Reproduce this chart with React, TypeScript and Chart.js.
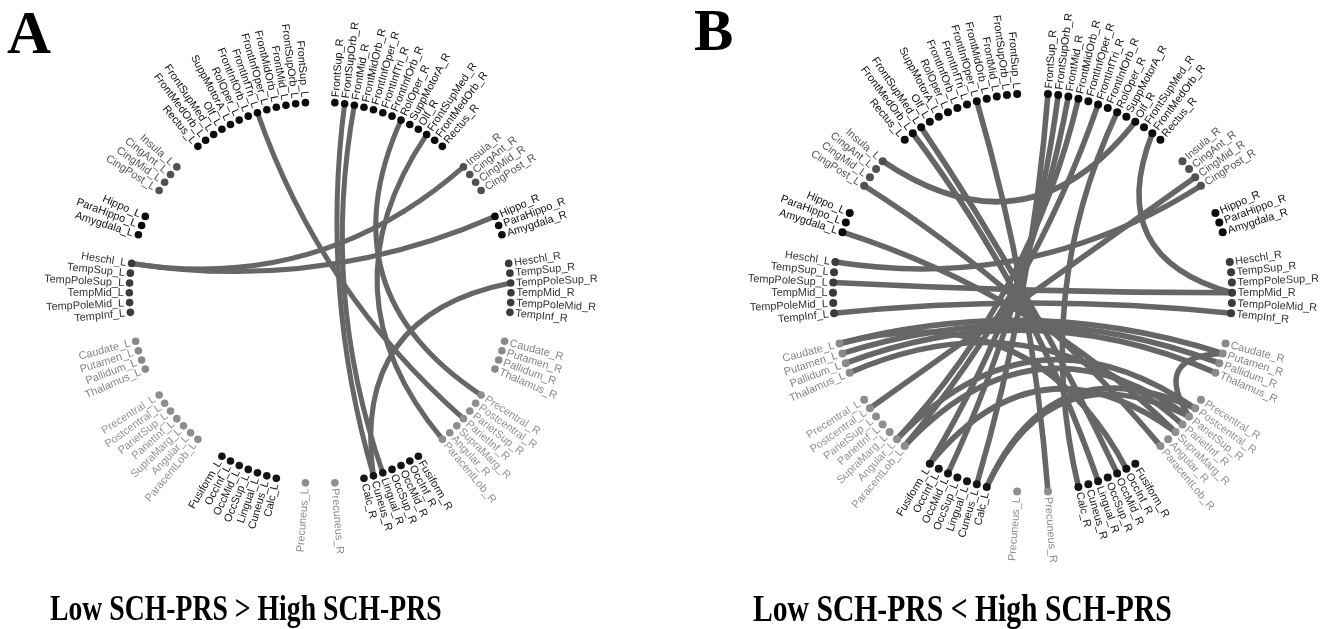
import React, { useEffect, useRef } from "react";
import { Chart, registerables } from "chart.js";
Chart.register(...registerables);

// ---------- data ----------
const FRONTAL = ["FrontSup", "FrontSupOrb", "FrontMid", "FrontMidOrb", "FrontInfOper", "FrontInfTri", "FrontInfOrb", "RolOper", "SuppMotorA", "Olf", "FrontSupMed", "FrontMedOrb", "Rectus"];
const LIMBIC = ["Insula", "CingAnt", "CingMid", "CingPost"];
const HIPPO = ["Hippo", "ParaHippo", "Amygdala"];
const TEMPORAL = ["Heschl", "TempSup", "TempPoleSup", "TempMid", "TempPoleMid", "TempInf"];
const SUBCORT = ["Caudate", "Putamen", "Pallidum", "Thalamus"];
const PARIETAL = ["Precentral", "Postcentral", "ParietSup", "ParietInf", "SupraMarg", "Angular", "ParacentLob"];
const OCCIPITAL = ["Fusiform", "OccInf", "OccMid", "OccSup", "Lingual", "Cuneus", "Calc"];
const PRECUNEUS = ["Precuneus"];
const GROUPS = [FRONTAL, LIMBIC, HIPPO, TEMPORAL, SUBCORT, PARIETAL, OCCIPITAL, PRECUNEUS];

const GROUP_DOT_COLORS = ["#0c0c0c", "#515151", "#0c0c0c", "#3b3b3b", "#8a8a8a", "#8e8e8e", "#141414", "#8e8e8e"];
const GROUP_TEXT_COLORS = ["#111111", "#555555", "#111111", "#333333", "#858585", "#929292", "#161616", "#8c8c8c"];

const LINKS_A: [string, string][] = [
  ["Heschl_L", "Insula_R"],
  ["Heschl_L", "Hippo_R"],
  ["FrontInfTri_L", "ParietInf_R"],
  ["FrontSupOrb_R", "Cuneus_R"],
  ["FrontMid_R", "Lingual_R"],
  ["RolOper_R", "Precentral_R"],
  ["FrontSupMed_R", "ParacentLob_R"],
  ["TempPoleSup_R", "Cuneus_R"],
];

const LINKS_B: [string, string][] = [
  ["FrontMedOrb_L", "Lingual_R"],
  ["FrontSupMed_L", "OccMid_R"],
  ["FrontInfOper_L", "Precuneus_R"],
  ["Insula_L", "Olf_R"],
  ["CingPost_L", "ParacentLob_R"],
  ["Amygdala_L", "SupraMarg_R"],
  ["Heschl_L", "CingPost_R"],
  ["TempPoleSup_L", "TempMid_R"],
  ["TempInf_L", "TempInf_R"],
  ["Caudate_L", "Putamen_R"],
  ["Putamen_L", "Pallidum_R"],
  ["Pallidum_L", "Thalamus_R"],
  ["Thalamus_L", "ParietInf_R"],
  ["Postcentral_L", "CingMid_R"],
  ["Angular_L", "FrontMidOrb_R"],
  ["ParacentLob_L", "FrontInfTri_R"],
  ["Fusiform_L", "FrontMid_R"],
  ["OccMid_L", "FrontSupOrb_R"],
  ["Cuneus_L", "FrontSup_R"],
  ["Calc_L", "ParietSup_R"],
  ["FrontMedOrb_R", "TempMid_R"],
  ["RolOper_R", "Calc_R"],
  ["Angular_L", "Postcentral_R"],
  ["OccInf_R", "Caudate_L"],
  ["ParietSup_R", "Putamen_R"],
  ["Calc_L", "Postcentral_R"],
  ["Fusiform_L", "SupraMarg_R"],
  ["ParacentLob_L", "ParietSup_R"],
];

const TITLE_A = "A";
const TITLE_B = "B";
const CAPTION_A = "Low SCH-PRS > High SCH-PRS";
const CAPTION_B = "Low SCH-PRS < High SCH-PRS";

// ---------- layout ----------
const H = 629;
const STEP = 180 / 61;

type Node = { name: string; group: number; phi: number; x: number; y: number };

function buildNodes(): Node[] {
  const out: Node[] = [];
  let idx = 0;
  GROUPS.forEach((g, gi) => {
    g.forEach((base) => {
      const theta = (1.5 + idx + 2 * gi) * STEP;
      const mk = (name: string, phi: number) => {
        const rad = (phi * Math.PI) / 180;
        out.push({ name, group: gi, phi, x: Math.sin(rad), y: Math.cos(rad) });
      };
      mk(base + "_L", 360 - theta);
      mk(base + "_R", theta);
      idx++;
    });
  });
  return out;
}
const NODES = buildNodes();
const NODE_MAP: Record<string, Node> = {};
NODES.forEach((n) => (NODE_MAP[n.name] = n));

function controlPoint(a: Node, b: Node) {
  let d = Math.abs(a.phi - b.phi);
  if (d > 180) d = 360 - d;
  const f = Math.max(0, 0.85 - 0.0085 * d);
  const sx = a.x + b.x;
  const sy = a.y + b.y;
  const m = Math.hypot(sx, sy);
  if (m < 1e-6 || f === 0) return { x: 0, y: 0 };
  return { x: (f * sx) / m, y: (f * sy) / m };
}

function makePlugin(links: [string, string][], linkWidth: number, fontSize: number) {
  return {
    id: "circos",
    beforeDatasetsDraw(chart: any) {
      const { ctx } = chart;
      const xs = chart.scales.x;
      const ys = chart.scales.y;
      ctx.save();
      ctx.strokeStyle = "#666666";
      ctx.lineWidth = linkWidth;
      ctx.lineCap = "butt";
      links.forEach(([an, bn]) => {
        const a = NODE_MAP[an];
        const b = NODE_MAP[bn];
        if (!a || !b) return;
        const c = controlPoint(a, b);
        ctx.beginPath();
        ctx.moveTo(xs.getPixelForValue(a.x), ys.getPixelForValue(a.y));
        ctx.quadraticCurveTo(
          xs.getPixelForValue(c.x),
          ys.getPixelForValue(c.y),
          xs.getPixelForValue(b.x),
          ys.getPixelForValue(b.y)
        );
        ctx.stroke();
      });
      ctx.restore();
    },
    afterDatasetsDraw(chart: any) {
      const { ctx } = chart;
      const xs = chart.scales.x;
      const ys = chart.scales.y;
      ctx.save();
      ctx.font = `${fontSize}px "Liberation Sans", Arial, sans-serif`;
      ctx.textBaseline = "middle";
      NODES.forEach((n) => {
        const px = xs.getPixelForValue(n.x);
        const py = ys.getPixelForValue(n.y);
        const rad = (n.phi * Math.PI) / 180;
        ctx.save();
        ctx.translate(px, py);
        ctx.fillStyle = GROUP_TEXT_COLORS[n.group];
        if (n.phi < 180) {
          ctx.rotate(rad - Math.PI / 2);
          ctx.textAlign = "left";
          ctx.fillText(n.name, 5.5, 0.5);
        } else {
          ctx.rotate(rad + Math.PI / 2);
          ctx.textAlign = "right";
          ctx.fillText(n.name, -5.5, 0.5);
        }
        ctx.restore();
      });
      ctx.restore();
    },
  };
}

type PanelProps = {
  links: [string, string][];
  left: number;
  width: number;
  cx: number;
  cy: number;
  r: number;
  linkWidth: number;
  dotRadius: number;
};

function CircosPanel({ links, left, width, cx, cy, r, linkWidth, dotRadius }: PanelProps) {
  const ref = useRef<HTMLCanvasElement>(null);
  useEffect(() => {
    const canvas = ref.current;
    if (!canvas) return;
    const datasets = GROUPS.map((g, gi) => ({
      label: "group" + gi,
      data: NODES.filter((n) => n.group === gi).map((n) => ({ x: n.x, y: n.y })),
      backgroundColor: GROUP_DOT_COLORS[gi],
      borderColor: GROUP_DOT_COLORS[gi],
      borderWidth: 0,
      pointRadius: dotRadius,
      pointHoverRadius: dotRadius,
      showLine: false,
    }));
    const chart = new Chart(canvas, {
      type: "scatter",
      data: { datasets },
      options: {
        animation: false,
        responsive: false,
        devicePixelRatio: 1,
        events: [],
        layout: { padding: 0 },
        plugins: {
          legend: { display: false },
          tooltip: { enabled: false },
          title: { display: false },
        },
        scales: {
          x: { type: "linear", display: false, min: -cx / r, max: (width - cx) / r },
          y: { type: "linear", display: false, min: -(H - cy) / r, max: cy / r },
        },
      },
      plugins: [makePlugin(links, linkWidth, 10.9)],
    } as any);
    return () => chart.destroy();
  }, []);
  return (
    <canvas
      ref={ref}
      width={width}
      height={H}
      style={{ position: "absolute", left, top: 0, width, height: H }}
    />
  );
}

const serif = '"Liberation Serif", "Times New Roman", serif';

export default function App() {
  return (
    <div style={{ position: "absolute", left: 0, top: 0, width: 1329, height: 629, background: "#fff", overflow: "hidden" }}>
      <CircosPanel links={LINKS_A} left={0} width={665} cx={320} cy={292.5} r={193} linkWidth={5} dotRadius={3.8} />
      <CircosPanel links={LINKS_B} left={665} width={664} cx={368} cy={292.5} r={202} linkWidth={5.6} dotRadius={4} />
      <div style={{ position: "absolute", left: 7, top: 2, fontFamily: serif, fontWeight: "bold", fontSize: 61, lineHeight: "61px", color: "#000" }}>{TITLE_A}</div>
      <div style={{ position: "absolute", left: 694, top: 1, fontFamily: serif, fontWeight: "bold", fontSize: 59, lineHeight: "59px", color: "#000" }}>{TITLE_B}</div>
      <div style={{ position: "absolute", left: 50, top: 590, fontFamily: serif, fontWeight: "bold", fontSize: 36, lineHeight: "36px", color: "#000", whiteSpace: "nowrap", transform: "scaleX(0.77)", transformOrigin: "0 0" }}>{CAPTION_A}</div>
      <div style={{ position: "absolute", left: 753, top: 589, fontFamily: serif, fontWeight: "bold", fontSize: 38.5, lineHeight: "38.5px", color: "#000", whiteSpace: "nowrap", transform: "scaleX(0.77)", transformOrigin: "0 0" }}>{CAPTION_B}</div>
    </div>
  );
}
